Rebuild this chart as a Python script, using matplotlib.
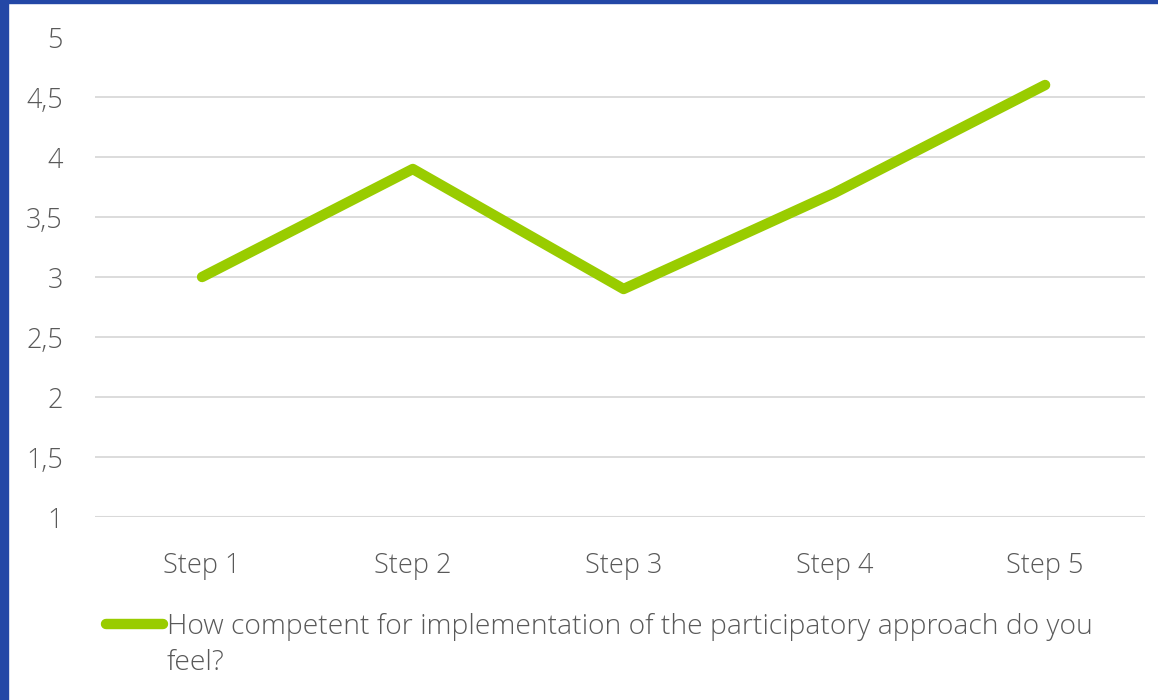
import matplotlib
matplotlib.use('Agg')

import matplotlib.pyplot as plt
from matplotlib.lines import Line2D
from matplotlib.patches import Rectangle

# Chart data
steps = ["Step 1", "Step 2", "Step 3", "Step 4", "Step 5"]
scores = [3.0, 3.9, 2.9, 3.7, 4.6]
y_ticks = [1, 1.5, 2, 2.5, 3, 3.5, 4, 4.5, 5]
y_labels = ["1", "1,5", "2", "2,5", "3", "3,5", "4", "4,5", "5"]
series_lines = ["How competent for implementation of the participatory approach do you",
                "feel?"]

green = "#99CC00"
text_grey = "#595959"
grid_grey = "#D9D9D9"
border_blue = "#2347A6"

plt.rcParams['font.family'] = ['Open Sans', 'DejaVu Sans']

W, H = 1158, 700
fig = plt.figure(figsize=(W / 100, H / 100), dpi=100)
ax = fig.add_axes([95 / W, 1 - 517 / H, 1050 / W, 480 / H])

ax.plot(range(len(steps)), scores, color=green, linewidth=7.5,
        solid_capstyle='round', solid_joinstyle='round', zorder=3)

ax.set_xlim(-0.508, 4.474)
ax.set_ylim(1, 5)
ax.set_xticks(range(len(steps)))
ax.set_xticklabels(steps, fontsize=19.5, color=text_grey, fontweight='light')
ax.set_yticks(y_ticks)
ax.set_yticklabels(y_labels, fontsize=19.5, color=text_grey, fontweight='light')
ax.tick_params(axis='x', length=0, pad=25)
ax.tick_params(axis='y', length=0, pad=23)

for v in y_ticks[1:-1]:
    ax.axhline(v, color=grid_grey, linewidth=1.3, zorder=1)
ax.axhline(1, color=grid_grey, linewidth=1.5, zorder=1)

for s in ax.spines.values():
    s.set_visible(False)

# legend drawn by hand so the handle sits on the first text line
fig.add_artist(Line2D([106 / W, 163 / W], [1 - 624 / H] * 2,
                      color=green, linewidth=7.5, solid_capstyle='round'))
for i, line in enumerate(series_lines):
    fig.text(167 / W, 1 - (623 + 36 * i) / H, line, fontsize=20.3, color=text_grey,
             fontweight='light', va='center_baseline', ha='left')

# blue frame on left and top
fig.add_artist(Rectangle((0, 0), 8 / W, 1, transform=fig.transFigure,
                         color=border_blue, zorder=10))
fig.add_artist(Rectangle((0, 1 - 3 / H), 1, 3 / H, transform=fig.transFigure,
                         color=border_blue, zorder=10))

plt.savefig("out.png", dpi=100)
